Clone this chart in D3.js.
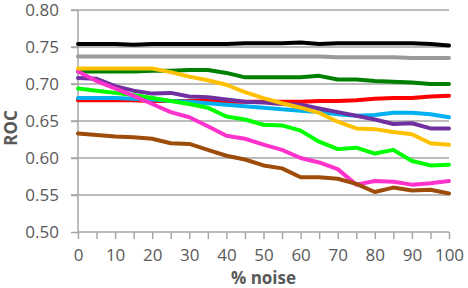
<!DOCTYPE html>
<html>
<head>
<meta charset="utf-8">
<script src="https://cdn.jsdelivr.net/npm/d3@7/dist/d3.min.js"></script>
<style>
  html, body { margin: 0; padding: 0; background: #fff; }
  svg { display: block; }
</style>
</head>
<body>
<svg id="chart" width="468" height="288"></svg>
<script>
// ---- data ----
const noise = [0,5,10,15,20,25,30,35,40,45,50,55,60,65,70,75,80,85,90,95,100];
const xTicks = [0,10,20,30,40,50,60,70,80,90,100];
const yTicks = [0.50,0.55,0.60,0.65,0.70,0.75,0.80];

const grayVals    = [0.737,0.737,0.737,0.737,0.737,0.737,0.737,0.737,0.737,0.737,0.737,0.737,0.737,0.737,0.736,0.736,0.736,0.736,0.735,0.735,0.735];
const blackVals   = [0.754,0.754,0.754,0.753,0.754,0.754,0.754,0.754,0.754,0.755,0.755,0.755,0.756,0.754,0.755,0.755,0.755,0.755,0.755,0.754,0.752];
const dkGreenVals = [0.717,0.717,0.717,0.717,0.718,0.718,0.719,0.719,0.715,0.709,0.709,0.709,0.709,0.711,0.706,0.706,0.704,0.703,0.702,0.700,0.700];
const redVals     = [0.678,0.678,0.678,0.678,0.677,0.677,0.677,0.677,0.676,0.676,0.676,0.676,0.676,0.677,0.677,0.678,0.680,0.681,0.681,0.683,0.684];
const cyanVals    = [0.681,0.681,0.681,0.680,0.679,0.677,0.676,0.674,0.672,0.670,0.668,0.666,0.664,0.662,0.659,0.657,0.658,0.661,0.661,0.659,0.655];
const purpleVals  = [0.708,0.707,0.697,0.691,0.687,0.688,0.683,0.682,0.679,0.676,0.675,0.673,0.672,0.667,0.662,0.657,0.652,0.646,0.647,0.640,0.640];
const greenVals   = [0.694,0.691,0.688,0.685,0.681,0.677,0.673,0.668,0.656,0.652,0.645,0.644,0.637,0.622,0.612,0.614,0.606,0.611,0.596,0.590,0.591];
const magentaVals = [0.717,0.704,0.694,0.684,0.673,0.662,0.655,0.643,0.630,0.626,0.618,0.611,0.600,0.594,0.585,0.564,0.569,0.568,0.564,0.566,0.569];
const brownVals   = [0.633,0.631,0.629,0.628,0.626,0.620,0.619,0.611,0.603,0.598,0.590,0.586,0.574,0.574,0.572,0.565,0.554,0.560,0.556,0.557,0.552];
const orangeVals  = [0.721,0.721,0.721,0.721,0.721,0.716,0.710,0.705,0.699,0.689,0.681,0.674,0.668,0.661,0.649,0.640,0.639,0.635,0.632,0.620,0.618];

const seriesNames  = ["gray","black","darkgreen","red","cyan","purple","green","magenta","brown","orange"];
const seriesValues = [grayVals,blackVals,dkGreenVals,redVals,cyanVals,purpleVals,greenVals,magentaVals,brownVals,orangeVals];
const seriesColors = ["#9a9a9a","#000000","#008000","#ff0000","#00b0f0","#7030a0","#00ff00","#ff33cc","#9e4c0a","#ffc000"];

// ---- layout ----
const svg = d3.select("#chart");
const plotL = 78, plotR = 449, plotT = 10, plotB = 232;

const x = d3.scaleLinear().domain([0,100]).range([plotL,plotR]);
const y = d3.scaleLinear().domain([0.50,0.80]).range([plotB,plotT]);

const fontFam = "'Open Sans', sans-serif";

// gridlines
svg.append("g")
  .selectAll("line")
  .data(yTicks.filter(d => d > 0.5))
  .join("line")
  .attr("x1", plotL - 7).attr("x2", plotR)
  .attr("y1", d => y(d)).attr("y2", d => y(d))
  .attr("stroke", "#a6a6a6").attr("stroke-width", 1.5);

// y axis
const yAxis = svg.append("g")
  .attr("transform", `translate(${plotL},0)`)
  .call(d3.axisLeft(y).tickValues(yTicks).tickFormat(d3.format(".2f")).tickSize(7).tickPadding(12));
yAxis.select(".domain").attr("stroke", "#a6a6a6").attr("stroke-width", 1.5).attr("d", `M0,${plotT}V${plotB}`);
yAxis.selectAll(".tick line").attr("stroke", "#a6a6a6").attr("stroke-width", 1.5);
yAxis.selectAll(".tick text").attr("fill", "#595959").attr("font-family", fontFam).attr("font-size", 17);

// x axis
const xAxis = svg.append("g")
  .attr("transform", `translate(0,${plotB})`)
  .call(d3.axisBottom(x).tickValues(d3.range(0,101,5)).tickFormat(d => xTicks.includes(d) ? d : "").tickSize(7).tickPadding(10));
xAxis.select(".domain").attr("stroke", "#a6a6a6").attr("stroke-width", 1.5).attr("d", `M${plotL},0H${plotR}`);
xAxis.selectAll(".tick line").attr("stroke", "#a6a6a6").attr("stroke-width", 1.5);
xAxis.selectAll(".tick text").attr("fill", "#595959").attr("font-family", fontFam).attr("font-size", 17);

// lines
const line = d3.line().x((d,i) => x(noise[i])).y(d => y(d));
svg.append("g")
  .selectAll("path")
  .data(seriesValues)
  .join("path")
  .attr("d", d => line(d))
  .attr("fill", "none")
  .attr("stroke", (d,i) => seriesColors[i])
  .attr("stroke-width", 4)
  .attr("stroke-linejoin", "round")
  .attr("stroke-linecap", "round");

// axis titles
svg.append("text")
  .attr("x", (plotL + plotR) / 2).attr("y", 284)
  .attr("text-anchor", "middle")
  .attr("font-family", fontFam).attr("font-size", 17).attr("font-weight", "bold")
  .attr("fill", "#595959")
  .text("% noise");

svg.append("text")
  .attr("transform", "translate(16.5,128) rotate(-90)")
  .attr("text-anchor", "middle")
  .attr("font-family", fontFam).attr("font-size", 17).attr("font-weight", "bold")
  .attr("fill", "#595959")
  .text("ROC");
</script>
</body>
</html>
